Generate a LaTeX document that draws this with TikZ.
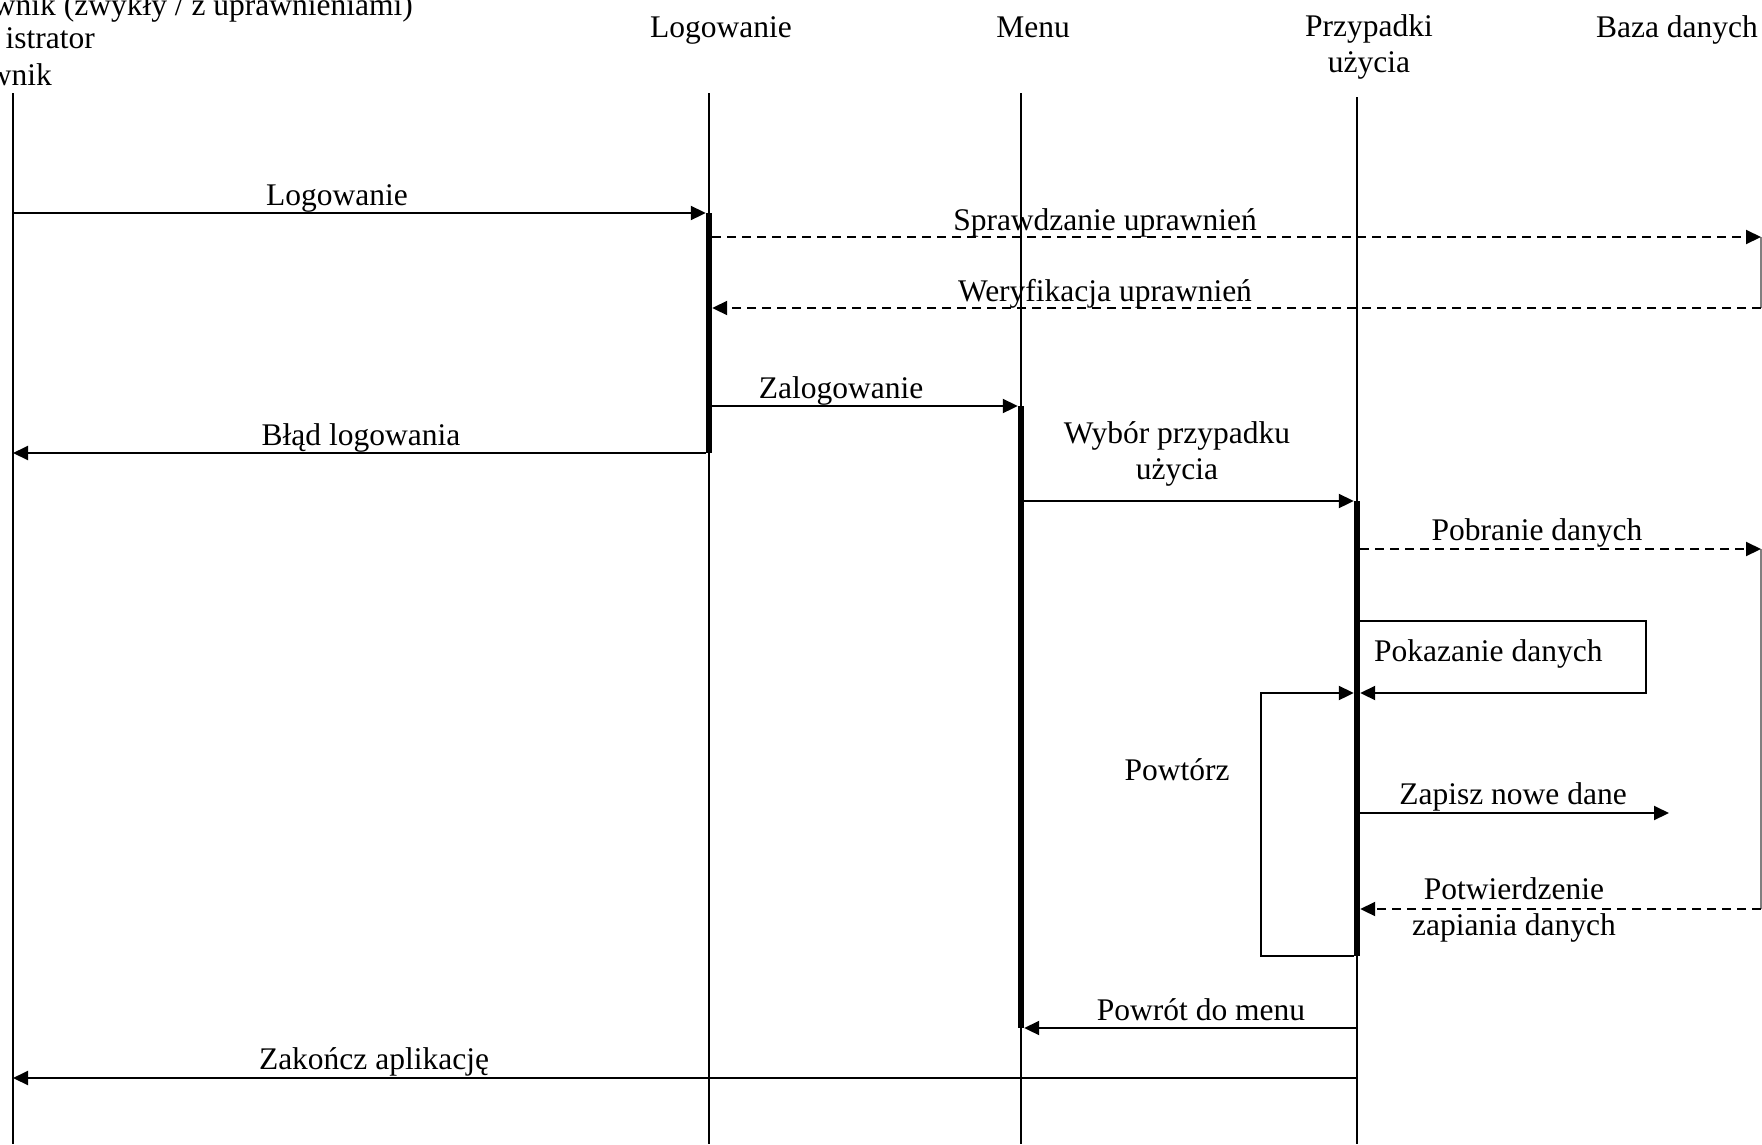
\documentclass[tikz,border=0pt]{standalone}
\usepackage{fontspec}
\setmainfont{Liberation Serif}
\usetikzlibrary{arrows.meta}
\begin{document}
\begin{tikzpicture}[x=1pt,y=-1pt,
  every node/.style={font=\fontsize{31.5}{36}\selectfont, inner sep=0pt},
  life/.style={line width=1.5pt},
  dbline/.style={line width=1.5pt, draw=black!50},
  msg/.style={line width=2pt, -{Triangle[length=15pt,width=14pt]}},
  ret/.style={msg, dash pattern=on 9pt off 6pt},
  plain/.style={line width=2pt},
  barbox/.style={fill=black, minimum width=6pt, inner sep=0pt, anchor=north},
  lbl/.style={anchor=base},
  lbl2/.style={anchor=center, align=center},
]
\useasboundingbox (0,0) rectangle (1762,1144);

% lifeline heads
\node[anchor=base east] (tU1) at (413,15) {wnik (zwykły / z uprawnieniami)};
\node[anchor=base east] (tU2) at (95,48) {istrator};
\node[anchor=base east] (tU3) at (52,85) {wnik};
\node[lbl] (tL2) at (721,37) {Logowanie};
\node[lbl] (tL3) at (1033,37) {Menu};
\node[lbl2] (tL4) at (1369,47) {Przypadki\\użycia};
\node[lbl] (tL5) at (1677,37) {Baza danych};

% lifeline coordinates
\coordinate (l1top) at (13,93);   \coordinate (l1bot) at (13,1144);
\coordinate (l2top) at (709,93);  \coordinate (l2bot) at (709,1144);
\coordinate (l3top) at (1021,93); \coordinate (l3bot) at (1021,1144);
\coordinate (l4top) at (1357,97); \coordinate (l4bot) at (1357,1144);
\coordinate (db) at (1761,0);
\coordinate (zap) at (1669,813);
\coordinate (selfR) at (1646,693);
\coordinate (loopL) at (1261,956);

\draw[life] (l1top) -- (l1bot);
\draw[life] (l2top) -- (l2bot);
\draw[life] (l3top) -- (l3bot);
\draw[life] (l4top) -- (l4bot);
\draw[dbline] (db |- 0,237) -- (db |- 0,308);
\draw[dbline] (db |- 0,549) -- (db |- 0,909);

% activation bars
\node[barbox, minimum height=240pt] (b2) at (709,213) {};
\node[barbox, minimum height=622pt] (b3) at (1021,406) {};
\node[barbox, minimum height=455pt] (b4) at (1357,501) {};

% messages
\draw[msg] (l1top |- 0,213) -- (b2.west |- 0,213);
\node[lbl] (m1) at (337,205) {Logowanie};

\draw[ret] (b2.east |- 0,237) -- (db |- 0,237);
\node[lbl] (m2) at (1105,230) {Sprawdzanie uprawnień};

\draw[ret] (db |- 0,308) -- (b2.east |- 0,308);
\node[lbl] (m3) at (1105,301) {Weryfikacja uprawnień};

\draw[msg] (b2.east |- 0,406) -- (b3.west |- 0,406);
\node[lbl] (m4) at (841,398) {Zalogowanie};

\draw[msg] (b2.west |- 0,453) -- (l1top |- 0,453);
\node[lbl] (m5) at (361,445) {Błąd logowania};

\draw[msg] (b3.east |- 0,501) -- (b4.west |- 0,501);
\node[lbl2] (m6) at (1177,454) {Wybór przypadku\\użycia};

\draw[ret] (b4.east |- 0,549) -- (db |- 0,549);
\node[lbl] (m7) at (1537,540) {Pobranie danych};

\draw[msg] (b4.east |- 0,621) -| (selfR) -- (b4.east |- 0,693);
\node[anchor=base west] (m8) at (1374,661) {Pokazanie danych};

\draw[msg] (b4.west |- 0,956) -- (loopL) |- (b4.west |- 0,693);
\node[lbl] (m9) at (1177,780) {Powtórz};

\draw[msg] (b4.east |- 0,813) -- (zap);
\node[lbl] (m10) at (1513,804) {Zapisz nowe dane};

\draw[ret] (db |- 0,909) -- (b4.east |- 0,909);
\node[lbl2] (m11) at (1514,910) {Potwierdzenie\\zapiania danych};

\draw[msg] (l4top |- 0,1028) -- (b3.east |- 0,1028);
\node[lbl] (m12) at (1201,1020) {Powrót do menu};

\draw[msg] (l4top |- 0,1078) -- (l1top |- 0,1078);
\node[lbl] (m13) at (374,1069) {Zakończ aplikację};
\end{tikzpicture}
\end{document}
